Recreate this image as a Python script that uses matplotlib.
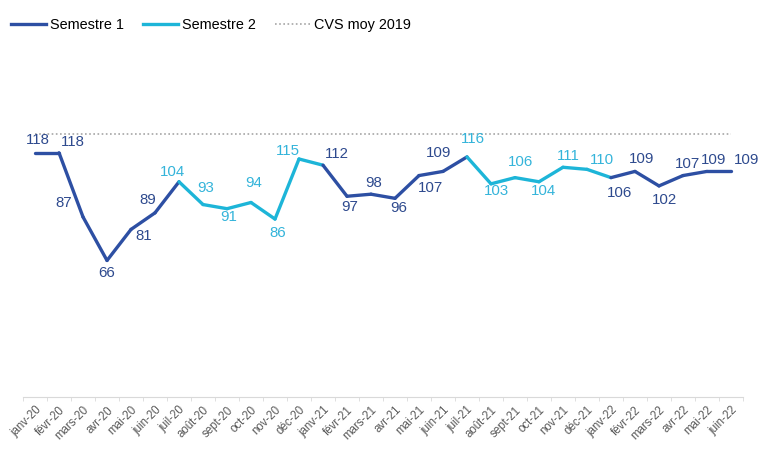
import matplotlib.pyplot as plt
import numpy as np
from matplotlib import rcParams

rcParams.update({"font.family": ["Liberation Sans", "DejaVu Sans"]})

# donnees
mois = ['janv-20', 'févr-20', 'mars-20', 'avr-20', 'mai-20', 'juin-20',
        'juil-20', 'août-20', 'sept-20', 'oct-20', 'nov-20', 'déc-20',
        'janv-21', 'févr-21', 'mars-21', 'avr-21', 'mai-21', 'juin-21',
        'juil-21', 'août-21', 'sept-21', 'oct-21', 'nov-21', 'déc-21',
        'janv-22', 'févr-22', 'mars-22', 'avr-22', 'mai-22', 'juin-22']
valeurs = [118, 118, 87, 66, 81, 89,
           104, 93, 91, 94, 86, 115,
           112, 97, 98, 96, 107, 109,
           116, 103, 106, 104, 111, 110,
           106, 109, 102, 107, 109, 109]
cvs_2019 = [127] * len(mois)

# decalage des etiquettes (points)
offsets = [(2, 9), (10, 8), (-14, 10), (0, -9), (9, -5), (-5, 9),
           (-5, 7), (2, 12), (1, -6), (2, 14), (2, -10), (-8, 6),
           (10, 8), (2, -8), (2, 8), (3, -7), (8, -9), (-3, 13),
           (4, 13), (4, -5), (4, 11), (3, -7), (4, 8), (11, 7),
           (6, -11), (5, 9), (4, -10), (3, 8), (5, 8), (11, 8)]

c1 = '#2D4FA3'
c2 = '#1DB5D8'
c1_txt = '#2E4A8E'
c2_txt = '#34B4DA'

x = np.arange(len(mois))
sem1 = np.array([m.split('-')[0] in ('janv', 'févr', 'mars', 'avr', 'mai', 'juin') for m in mois])

fig = plt.figure(figsize=(7.83, 4.70), dpi=100)
ax = fig.add_axes([0.0294, 0.155, 0.9195, 0.705])

ax.plot(x, cvs_2019, color='#A6A6A6', linestyle=(0, (1, 1.5)), linewidth=1.2, label='CVS moy 2019', zorder=1)

# segments colores selon le semestre du point de depart
for i in range(len(x) - 1):
    col = c1 if sem1[i] else c2
    ax.plot(x[i:i + 2], valeurs[i:i + 2], color=col, linewidth=2.4,
            solid_capstyle='round', solid_joinstyle='round', zorder=3)

for i, v in enumerate(valeurs):
    ax.annotate(str(v), (x[i], v), xytext=offsets[i], textcoords='offset points',
                ha='center', va='center', fontsize=10.8,
                color=c1_txt if sem1[i] else c2_txt, zorder=4)

# legende
h1, = ax.plot([], [], color=c1, linewidth=2.4)
h2, = ax.plot([], [], color=c2, linewidth=2.4)
h3 = ax.get_lines()[0]
leg = fig.legend([h1, h2, h3], ['Semestre 1', 'Semestre 2', 'CVS moy 2019'],
                 loc='upper left', bbox_to_anchor=(-0.002, 0.99), ncol=3, frameon=False,
                 fontsize=10.4, handlelength=2.4, handletextpad=0.3, columnspacing=1.3)

ax.set_xlim(-0.5, len(mois) - 0.5)
ax.set_ylim(0, 160)
ax.set_xticks(x)
ax.set_xticklabels(mois, rotation=45, ha='right', rotation_mode='anchor',
                   fontsize=8.3, color='#595959')
ax.set_xticks(np.arange(-0.5, len(mois), 1), minor=True)
ax.tick_params(axis='x', which='major', length=0, pad=5)
ax.tick_params(axis='x', which='minor', length=3, color='#D9D9D9')
ax.set_yticks([])
for s in ['top', 'right', 'left']:
    ax.spines[s].set_visible(False)
ax.spines['bottom'].set_color('#D9D9D9')

plt.savefig('out.png')
